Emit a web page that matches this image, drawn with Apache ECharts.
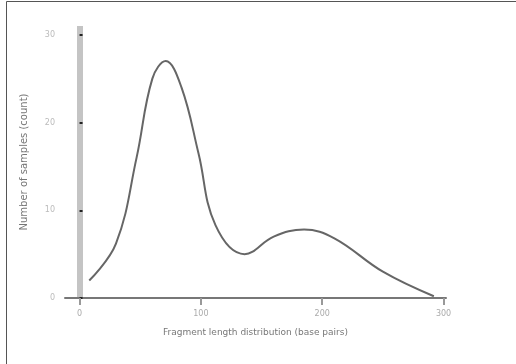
<!DOCTYPE html>
<html>
<head>
<meta charset="utf-8">
<script src="https://cdn.jsdelivr.net/npm/echarts@6/dist/echarts.min.js"></script>
<style>
  html, body { margin: 0; padding: 0; background: #fff; }
  #box { width: 516px; height: 364px; }
</style>
</head>
<body>
<div id="box"></div>
<script>
// 曲线上的点 (x, y)
var xValues = [8, 30, 47, 60, 71, 84, 98, 112, 136, 160, 185, 210, 250, 292];
var yValues = [2.0, 6.2, 16, 25, 27, 24, 16.5, 8.3, 5.0, 7.0, 7.8, 6.8, 3.0, 0.2];
var xTicks = [0, 100, 200, 300];
var yTicks = [0, 10, 20, 30];

var dom = document.getElementById("box");
var myChart = echarts.init(dom, null, { renderer: 'canvas' });

var points = xValues.map(function (x, i) { return [x, yValues[i]]; });

var option = {
    animation: false,
    backgroundColor: '#fff',
    textStyle: { fontFamily: 'DejaVu Sans' },
    graphic: [{
        type: 'rect',
        shape: { x: 6.5, y: 1.5, width: 530, height: 380 },
        style: { fill: 'none', stroke: '#555', lineWidth: 1 }
    }],
    grid: { left: 65, right: 70, top: 26, bottom: 66 },
    xAxis: {
        type: 'value',
        min: -12,
        max: 302,
        name: 'Fragment length distribution (base pairs)',
        nameLocation: 'middle',
        nameGap: 30,
        nameTextStyle: { color: '#777', fontSize: 9 },
        splitLine: { show: false },
        axisLine: { onZero: false, lineStyle: { color: '#777', width: 2 } },
        axisTick: { customValues: xTicks, length: 7, lineStyle: { color: '#999', width: 2 } },
        axisLabel: { customValues: xTicks, color: '#aaa', fontSize: 8, margin: 12 }
    },
    yAxis: {
        type: 'value',
        min: 0,
        max: 31,
        name: 'Number of samples (count)',
        nameLocation: 'middle',
        nameGap: 36,
        nameTextStyle: { color: '#777', fontSize: 10 },
        splitLine: { show: false },
        axisLine: { onZero: true, lineStyle: { color: '#c4c4c4', width: 6, cap: 'butt' } },
        axisTick: { customValues: yTicks, inside: true, length: 3, lineStyle: { color: '#222', width: 2 } },
        axisLabel: { customValues: yTicks, color: '#bbb', fontSize: 8, margin: 10 }
    },
    series: [{
        type: 'line',
        data: points,
        smooth: 0.4,
        showSymbol: false,
        lineStyle: { color: '#666', width: 2 }
    }]
};

myChart.setOption(option);
</script>
</body>
</html>
